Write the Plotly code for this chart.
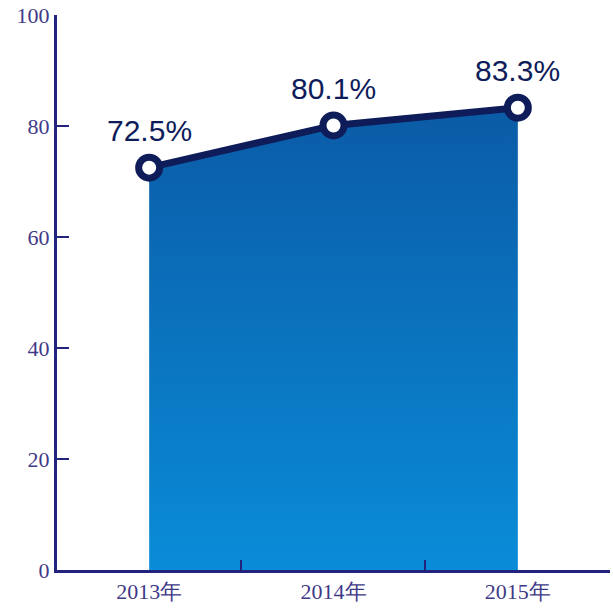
import plotly.graph_objects as go

years = ["2013年", "2014年", "2015年"]
values = [72.5, 80.1, 83.3]
labels = ["72.5%", "80.1%", "83.3%"]
y_ticks = [0, 20, 40, 60, 80, 100]
x_boundary_ticks = [0.5, 1.5, 2.5]

navy = "#0e1d5a"
axis_color = "#23237e"
tick_font_color = "#3f3a88"

fig = go.Figure()
fig.add_trace(go.Scatter(
    x=years, y=values,
    mode="lines+markers",
    line=dict(color=navy, width=7),
    marker=dict(size=21, color="white", line=dict(color=navy, width=7)),
    fill="tozeroy",
    fillgradient=dict(
        type="vertical",
        colorscale=[[0, "#0a8cd8"], [1, "#0b5ba6"]],
    ),
    cliponaxis=False,
    showlegend=False,
))

for yr, v, lab in zip(years, values, labels):
    fig.add_annotation(
        x=yr, y=v, text=lab, showarrow=False, yshift=37,
        font=dict(family="Liberation Sans, Arial, sans-serif", size=30, color=navy),
    )

fig.update_layout(
    width=613, height=609,
    margin=dict(l=57, r=3, t=15, b=39),
    paper_bgcolor="white",
    plot_bgcolor="white",
    xaxis=dict(
        type="category",
        range=[-0.5, 2.5],
        ticks="",
        showline=True,
        linecolor=axis_color,
        linewidth=3,
        showgrid=False,
        zeroline=False,
        tickfont=dict(family="Liberation Serif, Times New Roman, serif", size=22, color=tick_font_color),
    ),
    xaxis2=dict(
        overlaying="x",
        side="bottom",
        anchor="y",
        range=[-0.5, 2.505],
        tickvals=x_boundary_ticks,
        showticklabels=False,
        ticks="inside",
        ticklen=10,
        tickwidth=2,
        tickcolor=axis_color,
        showline=False,
        showgrid=False,
        zeroline=False,
    ),
    yaxis=dict(
        range=[0, 100],
        tickvals=y_ticks,
        ticks="inside",
        ticklen=12,
        tickwidth=2,
        tickcolor=axis_color,
        showline=True,
        linecolor=axis_color,
        linewidth=3,
        showgrid=False,
        zeroline=False,
        tickfont=dict(family="Liberation Serif, Times New Roman, serif", size=22, color=tick_font_color),
    ),
)

# invisible helper trace so the boundary-tick axis is drawn
fig.add_trace(go.Scatter(x=[None], y=[None], xaxis="x2", yaxis="y",
                         mode="markers", showlegend=False, hoverinfo="skip"))

fig.write_html(
    "out.html",
    config={"displayModeBar": False},
    post_script="document.body.style.margin='0';document.body.style.overflow='hidden';",
)
